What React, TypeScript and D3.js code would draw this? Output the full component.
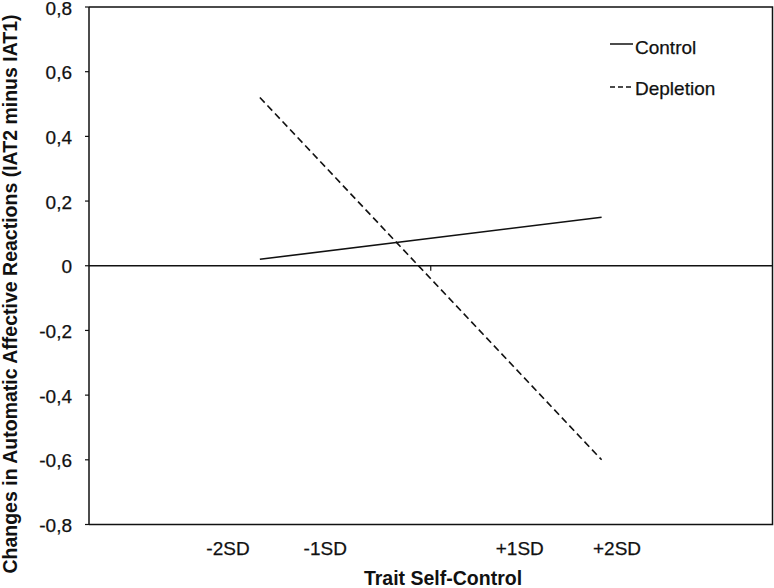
import React from "react";
import * as d3 from "d3";

const categories = ["Low", "High"];
const controlValues = [0.02, 0.15];
const depletionValues = [0.52, -0.6];
const yTicks = [0.8, 0.6, 0.4, 0.2, 0, -0.2, -0.4, -0.6, -0.8];
const sdLabels = ["-2SD", "-1SD", "+1SD", "+2SD"];
const sdValues = [-2, -1, 1, 2];

const W = 774;
const H = 588;
const left = 89;
const right = 772.5;
const top = 7;
const bottom = 524.5;

export default function App() {
  const x = d3.scaleBand<string>().domain(categories).range([left, right]).padding(0);
  const y = d3.scaleLinear().domain([-0.8, 0.8]).range([bottom, top]);
  const sdScale = d3.scaleLinear().domain([-2, 2]).range([228, 617]);
  const cx = (c: string) => (x(c) as number) + x.bandwidth() / 2;
  const line = d3
    .line<number>()
    .x((_, i) => cx(categories[i]))
    .y((d) => y(d));
  const fmt = (v: number) => (v === 0 ? "0" : d3.format(".1f")(v).replace(".", ",").replace("−", "-"));
  const font = "Liberation Sans, Arial, sans-serif";
  const txt = { fill: "#111", stroke: "#111", strokeWidth: 0.25 };
  return (
    <svg width={W} height={H} style={{ position: "absolute", left: 0, top: 0 }} fontFamily={font}>
      <rect x={0} y={0} width={W} height={H} fill="#fff" />
      {/* plot border */}
      <path d={`M${left},${top}H${right}V${bottom}H${left}`} fill="none" stroke="#111" strokeWidth={1.5} />
      {/* y axis */}
      <line x1={left} x2={left} y1={top} y2={bottom} stroke="#111" strokeWidth={1.5} />
      {yTicks.map((t) => (
        <g key={t}>
          <line x1={left - 4} x2={left} y1={y(t)} y2={y(t)} stroke="#111" strokeWidth={1.2} />
          <text x={72} y={y(t)} dy="0.4em" textAnchor="end" fontSize={19} {...txt}>
            {fmt(t)}
          </text>
        </g>
      ))}
      {/* zero category axis */}
      <line x1={left} x2={right} y1={y(0)} y2={y(0)} stroke="#111" strokeWidth={1.5} />
      <line x1={x("High") as number} x2={x("High") as number} y1={y(0)} y2={y(0) + 5} stroke="#111" strokeWidth={1.2} />
      {/* series */}
      <path d={line(controlValues) || ""} fill="none" stroke="#111" strokeWidth={1.6} />
      <path d={line(depletionValues) || ""} fill="none" stroke="#111" strokeWidth={1.6} strokeDasharray="7,4" />
      {/* legend */}
      <line x1={610} x2={633} y1={44} y2={44} stroke="#111" strokeWidth={1.5} />
      <text x={635} y={54} fontSize={19} {...txt}>Control</text>
      <line x1={610} x2={633} y1={87} y2={87} stroke="#111" strokeWidth={1.5} strokeDasharray="5,3" />
      <text x={635} y={95} fontSize={19} {...txt}>Depletion</text>
      {/* SD labels */}
      {sdLabels.map((l, i) => (
        <text key={l} x={sdScale(sdValues[i])} y={555} textAnchor="middle" fontSize={19} {...txt}>
          {l}
        </text>
      ))}
      <text x={443} y={585} textAnchor="middle" fontSize={19.5} fontWeight="bold" fill="#111">
        Trait Self-Control
      </text>
      <text
        transform={`translate(17,294) rotate(-90)`}
        textAnchor="middle"
        fontSize={19.5}
        fontWeight="bold"
        fill="#111"
      >
        Changes in Automatic Affective Reactions (IAT2 minus IAT1)
      </text>
    </svg>
  );
}
